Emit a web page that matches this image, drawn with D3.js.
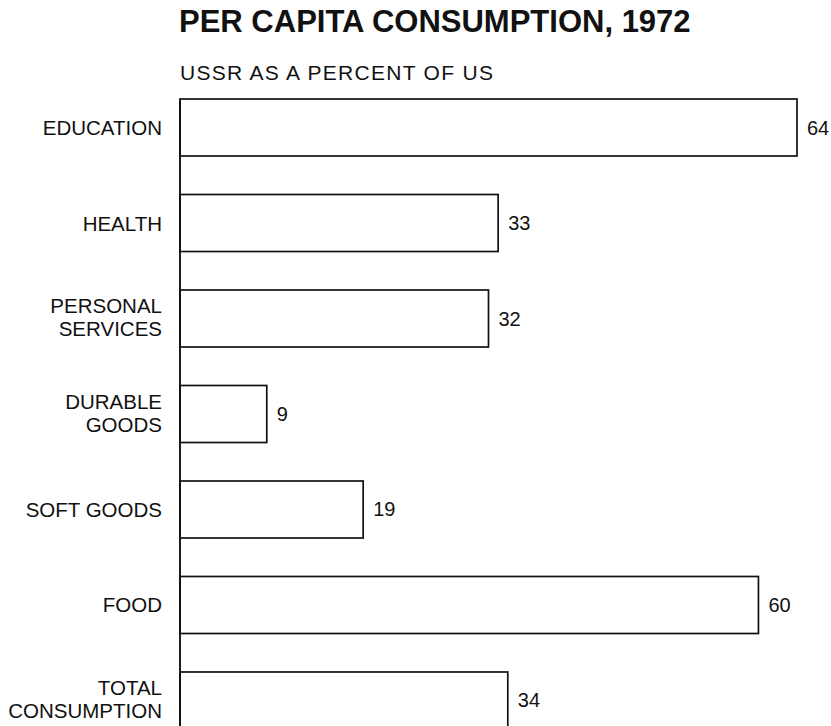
<!DOCTYPE html>
<html>
<head>
<meta charset="utf-8">
<script src="https://cdn.jsdelivr.net/npm/d3@7"></script>
<style>
    body { margin: 0; background: #fff; }
    svg text { font-family: "Liberation Sans", Arial, Helvetica, sans-serif; fill: #111; }
</style>
</head>
<body>
<div id="chart"></div>
<script>
// data
const categories = ["EDUCATION", "HEALTH", "PERSONAL SERVICES", "DURABLE GOODS", "SOFT GOODS", "FOOD", "TOTAL CONSUMPTION"];
const labelLines = [["EDUCATION"], ["HEALTH"], ["PERSONAL", "SERVICES"], ["DURABLE", "GOODS"], ["SOFT GOODS"], ["FOOD"], ["TOTAL", "CONSUMPTION"]];
const values = [64, 33, 32, 9, 19, 60, 34];

const title = "PER CAPITA CONSUMPTION, 1972";
const subtitle = "USSR AS A PERCENT OF US";

const width = 831, height = 726;
const axisX = 180;

const svg = d3.select("#chart")
    .append("svg")
    .attr("width", width)
    .attr("height", height);

// scales
const xScale = d3.scaleLinear().domain([0, 64]).range([axisX, 797]);
const yScale = d3.scaleBand()
    .domain(categories)
    .range([99, 729])
    .paddingInner(0.403)
    .paddingOuter(0);

// titles
svg.append("text")
    .attr("x", 179)
    .attr("y", 32)
    .attr("font-size", 31)
    .attr("font-weight", "bold")
    .text(title);

svg.append("text")
    .attr("x", 180)
    .attr("y", 80)
    .attr("font-size", 21)
    .attr("letter-spacing", 1.3)
    .text(subtitle);

// bars
svg.append("g")
    .selectAll("rect")
    .data(categories)
    .join("rect")
    .attr("x", axisX)
    .attr("y", d => yScale(d))
    .attr("width", (d, i) => xScale(values[i]) - axisX)
    .attr("height", yScale.bandwidth())
    .attr("fill", "#fff")
    .attr("stroke", "#111")
    .attr("stroke-width", 1.7);

// vertical axis line
svg.append("line")
    .attr("x1", axisX).attr("x2", axisX)
    .attr("y1", yScale.range()[0])
    .attr("y2", height)
    .attr("stroke", "#111")
    .attr("stroke-width", 1.9);

// value labels
svg.append("g")
    .selectAll("text")
    .data(categories)
    .join("text")
    .attr("x", (d, i) => xScale(values[i]) + 10)
    .attr("y", d => yScale(d) + yScale.bandwidth() / 2 + 7)
    .attr("font-size", 20)
    .text((d, i) => values[i]);

// category labels
const catLabels = svg.append("g")
    .selectAll("text")
    .data(categories)
    .join("text")
    .attr("text-anchor", "end")
    .attr("font-size", 20.5);

catLabels.each(function(d, i) {
    const lines = labelLines[i];
    const mid = yScale(d) + yScale.bandwidth() / 2;
    const lineH = 23;
    const start = mid - (lines.length - 1) * lineH / 2 + 7.5 - (lines.length > 1 ? 1.5 : 0);
    d3.select(this).selectAll("tspan")
        .data(lines)
        .join("tspan")
        .attr("x", 162)
        .attr("y", (l, j) => start + j * lineH)
        .text(l => l);
});
</script>
</body>
</html>
